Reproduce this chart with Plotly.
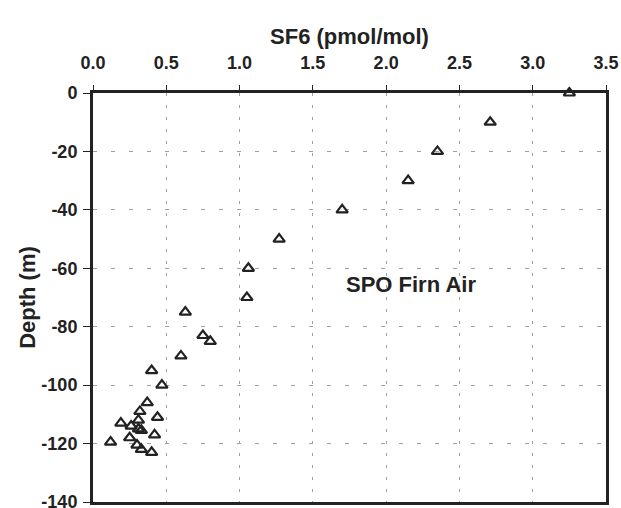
import plotly.graph_objects as go

sf6 = [3.25, 2.71, 2.35, 2.15, 1.70, 1.27, 1.06, 1.05, 0.63, 0.75, 0.80, 0.60, 0.40, 0.47,
       0.37, 0.32, 0.44, 0.19, 0.31, 0.26, 0.31, 0.33, 0.42, 0.25, 0.12, 0.30, 0.33, 0.40]
depth = [0, -10, -20, -30, -40, -50, -60, -70, -75, -83, -85, -90, -95, -100,
         -106, -109, -111, -113, -112, -114, -115, -115.5, -117, -118, -119.5, -120.5, -122, -123]

x_ticks = [0.0, 0.5, 1.0, 1.5, 2.0, 2.5, 3.0, 3.5]
x_tick_labels = ["0.0", "0.5", "1.0", "1.5", "2.0", "2.5", "3.0", "3.5"]
y_ticks = [0, -20, -40, -60, -80, -100, -120, -140]
y_tick_labels = ["0", "-20", "-40", "-60", "-80", "-100", "-120", "-140"]

font = "Liberation Sans, Arial, sans-serif"
ink = "#222"

fig = go.Figure()
fig.add_trace(go.Scatter(
    x=sf6, y=depth, mode="markers",
    marker=dict(symbol="triangle-up-open", size=10, color=ink,
                line=dict(color=ink, width=2.2)),
    showlegend=False, cliponaxis=False,
))

fig.add_annotation(x=2.17, y=-65.5, text="<b>SPO Firn Air</b>", showarrow=False,
                   font=dict(family=font, size=22, color=ink))

fig.update_layout(
    width=621, height=508,
    margin=dict(l=93, r=15, t=93, b=6),
    paper_bgcolor="white", plot_bgcolor="white",
    font=dict(family=font, color=ink),
)
fig.update_xaxes(
    side="top", range=[0, 3.5], tickvals=x_ticks,
    ticktext=["<b>%s</b>" % t for t in x_tick_labels],
    tickfont=dict(size=18, family=font, color=ink),
    ticklabelstandoff=9,
    title=dict(text="<b>SF6 (pmol/mol)</b>", font=dict(size=22, family=font, color=ink), standoff=3),
    showline=True, linecolor=ink, linewidth=3, mirror=True,
    ticks="outside", ticklen=5, tickcolor=ink, tickwidth=1,
    showgrid=True, gridcolor="#a0a0a0", gridwidth=1, griddash="3px,9px",
    zeroline=False, automargin=False, ticklabeloverflow="allow",
)
fig.update_yaxes(
    range=[-140, 0], tickvals=y_ticks,
    ticktext=["<b>%s</b>" % t for t in y_tick_labels],
    tickfont=dict(size=18, family=font, color=ink),
    ticklabelstandoff=2,
    title=dict(text="<b>Depth (m)</b>", font=dict(size=22, family=font, color=ink), standoff=0),
    showline=True, linecolor=ink, linewidth=3, mirror=True,
    ticks="outside", ticklen=7, tickcolor=ink, tickwidth=1,
    showgrid=True, gridcolor="#a0a0a0", gridwidth=1, griddash="4px,14px",
    zeroline=False, automargin=False, ticklabeloverflow="allow",
)

fig.write_html("out.html", config={"displayModeBar": False},
               post_script="document.body.style.margin='0';")
